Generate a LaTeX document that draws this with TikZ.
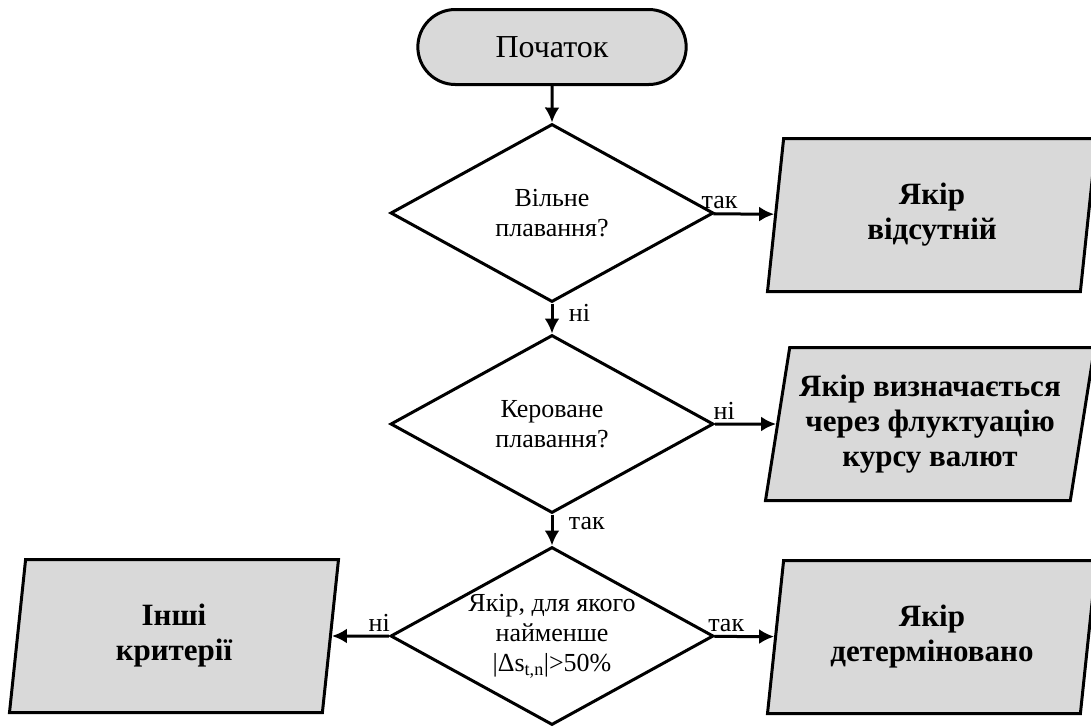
\documentclass[tikz,border=0pt]{standalone}
\usepackage{fontspec}
\setmainfont{Liberation Serif}
\usetikzlibrary{shapes.geometric, shapes.misc, arrows.meta, positioning}
\definecolor{boxgray}{RGB}{217,217,217}

\begin{document}
\begin{tikzpicture}[x=1pt, y=-1pt,
    terminal/.style={draw, rounded rectangle, fill=boxgray, line width=3pt, minimum width=275pt, minimum height=75pt, font=\fontsize{32}{36}\selectfont},
    decision/.style={draw, diamond, aspect=1.81, line width=3pt, minimum width=323pt, minimum height=178pt, inner sep=0pt, align=center, font=\fontsize{26}{30}\selectfont},
    io/.style={draw, trapezium, trapezium left angle=77, trapezium right angle=103, trapezium stretches body, line width=3pt, minimum width=329pt, minimum height=153pt, fill=boxgray, align=center, inner xsep=0pt, font=\fontsize{31}{35}\selectfont\bfseries},
    arrow/.style={-{Latex[length=15pt, width=15pt]}, line width=3pt},
    lbl/.style={font=\fontsize{26}{30}\selectfont}
]
    \useasboundingbox (0,0) rectangle (1091,726);

    % Nodes
    \node (start) [terminal] at (552,47) {Початок};
    \node (free) [decision] at (552,213) {Вільне\\плавання?};
    \node (managed) [decision] at (552,424) {Кероване\\плавання?};
    \node (anchor) [decision] at (552,636) {Якір, для якого\\найменше\\|Δs\textsubscript{t,n}|>50\%};
    \node (absent) [io] at (932,215) {Якір\\відсутній};
    \node (fluct) [io] at (930,424) {Якір визначається\\через флуктуацію\\курсу валют};
    \node (determined) [io] at (932,637) {Якір\\детерміновано};
    \node (other) [io] at (174,636) {Інші\\критерії};

    % Arrows
    \draw [arrow] (start) -- (free);
    \draw [arrow] (free) -- node[lbl, above, pos=0.1] {так} (absent);
    \draw [arrow] (free) -- node[lbl, right, pos=0.3, xshift=12pt] {ні} (managed);
    \draw [arrow] (managed) -- node[lbl, above, pos=0.15] {ні} (fluct);
    \draw [arrow] (managed) -- node[lbl, right, pos=0.3, xshift=12pt] {так} (anchor);
    \draw [arrow] (anchor) -- node[lbl, above, pos=0.2] {так} (determined);
    \draw [arrow] (anchor) -- node[lbl, above, pos=0.17] {ні} (other);
\end{tikzpicture}
\end{document}
